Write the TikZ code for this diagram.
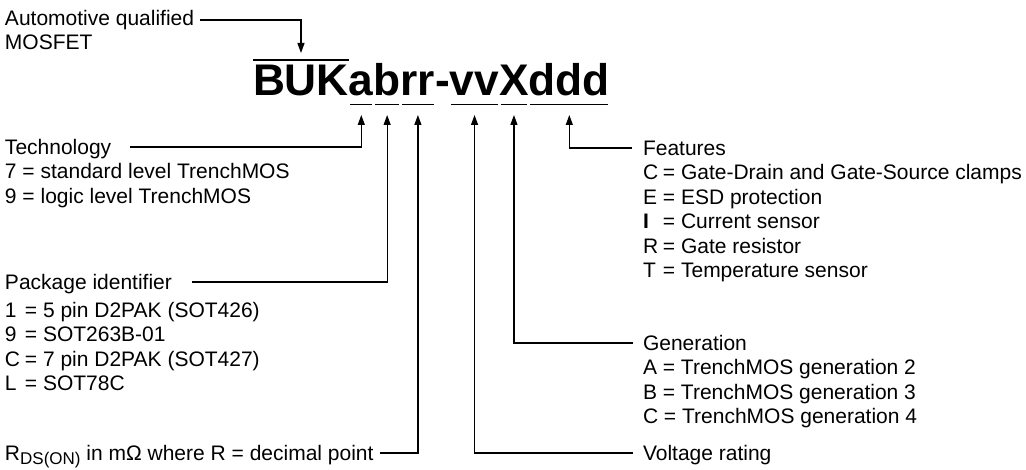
\documentclass[tikz,border=0pt]{standalone}
\usepackage{fontspec}
\setmainfont{Liberation Sans}
\usetikzlibrary{arrows.meta,calc}
\newcommand\keycol[1]{\makebox[0.95em][l]{#1}}
\begin{document}
\begin{tikzpicture}[x=1pt,y=-1pt,
  lbl/.style={anchor=west,inner sep=0pt,outer sep=0pt,font=\fontsize{21}{24}\selectfont,text height=15pt,text depth=0.3pt},
  big/.style={anchor=base west,inner sep=0pt,outer sep=0pt,font=\fontsize{44.3}{44}\selectfont\bfseries},
  conn/.style={line width=1.2pt,-{Triangle[length=10pt,width=7pt]}},
  bar/.style={line width=1.3pt}]
\useasboundingbox (0,0) rectangle (1026,470);

% part number
\node[big] (buk) at (253,96) {BUK};
\node[big] (a) at (buk.base east) {a};
\node[big] (b) at (a.base east) {b};
\node[big] (rr) at (b.base east) {rr};
\node[big] (hy) at (rr.base east) {-};
\node[big] (vv) at (hy.base east) {vv};
\node[big] (X) at (vv.base east) {X};
\node[big] (ddd) at (X.base east) {ddd};

\draw[bar] ($(buk.base west)+(0,-36)$) -- ($(buk.base east)+(0,-36)$);
\foreach \n in {a,b,rr,vv,X,ddd}{
  \draw[bar] ($(\n.base west)+(1.5,8.5)$) -- ($(\n.base east)+(-1.5,8.5)$);
  \coordinate (p\n) at ($(\n.base)+(0,19)$);
}
\coordinate (pbuk) at ($(buk.base)+(0,-43)$);

% top label
\node[lbl] (auto) at (5,18) {Automotive qualified};
\node[lbl] (mos) at (5,42.5) {MOSFET};
\draw[conn] ($(auto.east)+(6,2)$) -| (pbuk);

% technology
\node[lbl] (tech) at (5,147) {Technology};
\node[lbl] (tech1) at (5,171.5) {7 = standard level TrenchMOS};
\node[lbl] (tech2) at (5,196) {9 = logic level TrenchMOS};
\draw[conn] ($(tech.east)+(19,0)$) -| (pa);

% package
\node[lbl] (pkg) at (5,282) {Package identifier};
\node[lbl] (pkg1) at (5,310) {\keycol{1}= 5 pin D2PAK (SOT426)};
\node[lbl] (pkg2) at (5,334.5) {\keycol{9}= SOT263B-01};
\node[lbl] (pkg3) at (5,359) {\keycol{C}= 7 pin D2PAK (SOT427)};
\node[lbl] (pkg4) at (5,383.5) {\keycol{L}= SOT78C};
\draw[conn] ($(pkg.east)+(20,0)$) -| (pb);

% rds
\node[lbl] (rds) at (5,453) {R\raisebox{-0.4ex}{\fontsize{17}{17}\selectfont DS(ON)} in mΩ where R = decimal point};
\draw[conn] ($(rds.east)+(6,0)$) -| (prr);

% voltage
\node[lbl] (volt) at (643,453) {Voltage rating};
\draw[conn] ($(volt.west)+(-10,0)$) -| (pvv);

% generation
\node[lbl] (gen) at (643,343) {Generation};
\node[lbl] (gen1) at (643,367.5) {A = TrenchMOS generation 2};
\node[lbl] (gen2) at (643,392) {B = TrenchMOS generation 3};
\node[lbl] (gen3) at (643,416.5) {C = TrenchMOS generation 4};
\draw[conn] ($(gen.west)+(-10,0)$) -| (pX);

% features
\node[lbl] (feat) at (643,148) {Features};
\node[lbl] (feat1) at (643,172.5) {\keycol{C}= Gate-Drain and Gate-Source clamps};
\node[lbl] (feat2) at (643,197) {\keycol{E}= ESD protection};
\node[lbl] (feat3) at (643,221.5) {\keycol{\textbf{I}}= Current sensor};
\node[lbl] (feat4) at (643,246) {\keycol{R}= Gate resistor};
\node[lbl] (feat5) at (643,270.5) {\keycol{T}= Temperature sensor};
\draw[conn] ($(feat.west)+(-11,0)$) -| (pddd);
\end{tikzpicture}
\end{document}
